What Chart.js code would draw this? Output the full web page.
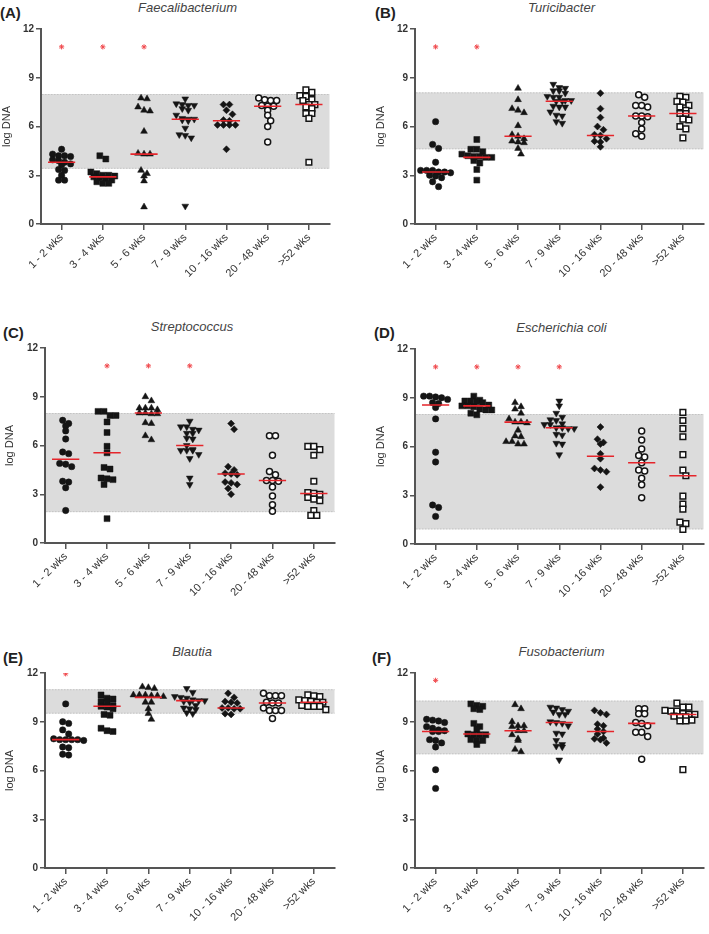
<!DOCTYPE html>
<html>
<head>
<meta charset="utf-8">
<script src="https://cdn.jsdelivr.net/npm/chart.js@4"></script>
<style>
  body { margin: 0; background: #fff; width: 709px; height: 934px; position: relative; overflow: hidden;
         font-family: "Liberation Sans", Arial, sans-serif; }
  canvas { position: absolute; }
  .lbl { position: absolute; font-weight: bold; font-size: 15px; line-height: 17px; color: #222; }
  .ttl { position: absolute; font-style: italic; font-size: 13px; line-height: 16px; color: #444; text-align: center; }
</style>
</head>
<body>
<script>
// categories and axis ticks
const categories = ['1 - 2 wks', '3 - 4 wks', '5 - 6 wks', '7 - 9 wks', '10 - 16 wks', '20 - 48 wks', '>52 wks'];
const yTicks = [0, 3, 6, 9, 12];

// (A) Faecalibacterium
const faecali = [
  [4.6, 4.3, 4.2, 4.2, 4.15, 3.95, 3.9, 3.8, 3.7, 3.65, 3.35, 3.3, 3.0, 2.7, 2.7],
  [4.2, 4.0, 3.2, 3.1, 3.0, 3.0, 2.95, 2.9, 2.85, 2.8, 2.7, 2.6, 2.5, 2.5],
  [7.75, 7.7, 7.2, 7.0, 6.95, 5.7, 4.35, 4.3, 4.3, 3.3, 3.1, 2.95, 2.65, 1.05],
  [7.7, 7.4, 7.35, 7.3, 7.3, 7.1, 7.0, 6.7, 6.5, 6.45, 6.45, 6.4, 6.35, 5.9, 5.5, 5.45, 5.3, 1.1],
  [7.35, 7.35, 7.0, 6.75, 6.4, 6.35, 6.1, 6.1, 6.1, 6.1, 4.6],
  [7.75, 7.65, 7.6, 7.6, 7.3, 7.25, 7.25, 7.0, 6.7, 6.35, 6.0, 5.05],
  [8.25, 8.1, 7.9, 7.85, 7.65, 7.6, 7.35, 7.35, 7.2, 7.1, 6.8, 6.8, 6.5, 3.8]
];
const faecaliMedian = [3.8, 2.9, 4.3, 6.45, 6.35, 7.25, 7.35];
const faecaliStars = [10.9, 10.9, 10.9, null, null, null, null];
const faecaliBand = [3.4, 8.0];

// (B) Turicibacter
const turici = [
  [6.3, 4.9, 4.65, 3.8, 3.3, 3.3, 3.3, 3.2, 3.2, 3.15, 3.0, 2.95, 2.85, 2.6, 2.3],
  [5.2, 4.6, 4.6, 4.45, 4.3, 4.2, 4.15, 4.15, 4.1, 4.1, 3.9, 3.75, 3.35, 2.7],
  [8.35, 7.65, 7.1, 7.0, 6.85, 6.05, 5.5, 5.4, 5.25, 5.1, 5.05, 5.0, 4.65, 4.3],
  [8.6, 8.4, 8.35, 8.2, 8.2, 8.05, 7.85, 7.8, 7.8, 7.6, 7.6, 7.55, 7.55, 7.25, 7.2, 7.2, 6.9, 6.7, 6.65, 6.3, 6.2],
  [8.05, 7.1, 6.55, 6.0, 5.8, 5.5, 5.45, 5.25, 5.1, 5.05, 4.75],
  [7.95, 7.8, 7.3, 7.3, 7.2, 6.65, 6.65, 6.6, 6.25, 5.85, 5.55, 5.4],
  [7.85, 7.8, 7.55, 7.5, 7.3, 7.2, 7.0, 6.8, 6.8, 6.45, 6.4, 6.0, 5.85, 5.3]
];
const turiciMedian = [3.2, 4.1, 5.4, 7.55, 5.45, 6.65, 6.8];
const turiciStars = [10.9, 10.9, null, null, null, null, null];
const turiciBand = [4.6, 8.1];

// (C) Streptococcus
const strepto = [
  [7.55, 7.35, 7.2, 6.9, 6.4, 5.6, 5.5, 4.9, 4.85, 4.7, 3.8, 3.75, 3.4, 2.0],
  [8.1, 8.1, 7.85, 7.85, 7.45, 6.8, 5.95, 5.55, 4.65, 4.55, 4.0, 3.95, 3.9, 3.6, 1.5],
  [9.0, 8.75, 8.3, 8.3, 8.3, 8.2, 8.0, 8.0, 7.95, 7.95, 7.4, 7.35, 6.6, 6.35],
  [7.5, 7.15, 7.15, 7.0, 6.95, 6.75, 6.75, 6.45, 6.4, 6.0, 5.75, 5.7, 5.7, 5.7, 5.45, 5.2, 4.0, 3.6],
  [7.35, 7.0, 4.7, 4.5, 4.3, 4.25, 4.2, 3.75, 3.7, 3.6, 3.35, 3.0],
  [6.6, 6.6, 5.4, 4.4, 4.2, 3.85, 3.85, 3.8, 3.45, 2.9, 2.35, 1.95],
  [5.95, 5.95, 5.75, 5.4, 3.8, 3.1, 3.05, 3.0, 2.8, 2.7, 2.6, 2.0, 1.7, 1.7]
];
const streptoMedian = [5.15, 5.55, 8.0, 6.0, 4.25, 3.85, 3.05];
const streptoStars = [null, 10.9, 10.9, 10.9, null, null, null];
const streptoBand = [1.9, 8.0];

// (D) Escherichia coli
const ecoli = [
  [9.1, 9.1, 9.05, 9.0, 8.9, 8.7, 8.65, 8.4, 7.7, 5.65, 5.05, 2.4, 2.25, 1.7],
  [9.1, 8.85, 8.8, 8.8, 8.75, 8.7, 8.55, 8.5, 8.5, 8.45, 8.3, 8.25, 8.25, 8.05, 7.95],
  [8.7, 8.45, 8.3, 8.05, 7.7, 7.5, 7.5, 7.45, 7.0, 6.65, 6.6, 6.3, 6.3, 6.15, 6.15],
  [8.8, 8.5, 8.05, 7.8, 7.65, 7.6, 7.4, 7.35, 7.35, 7.15, 7.15, 7.1, 7.1, 6.75, 6.7, 6.2, 6.15, 5.5],
  [7.2, 6.45, 6.25, 6.15, 5.55, 5.25, 4.65, 4.55, 4.45, 3.5],
  [6.95, 6.4, 5.85, 5.45, 5.35, 5.0, 4.55, 4.5, 4.05, 3.65, 2.85],
  [8.1, 7.6, 7.1, 6.6, 5.5, 4.55, 4.2, 2.95, 2.45, 2.15, 1.35, 1.25, 0.9]
];
const ecoliMedian = [8.55, 8.5, 7.5, 7.15, 5.4, 5.0, 4.2];
const ecoliStars = [10.9, 10.9, 10.9, 10.9, null, null, null];
const ecoliBand = [0.9, 8.0];

// (E) Blautia
const blautia = [
  [10.1, 9.0, 8.9, 8.5, 8.25, 7.95, 7.9, 7.9, 7.9, 7.9, 7.85, 7.45, 7.4, 7.0, 6.95],
  [10.65, 10.45, 10.4, 10.25, 10.2, 10.0, 9.95, 9.9, 9.8, 9.45, 9.4, 8.6, 8.45, 8.4],
  [11.15, 11.1, 11.05, 10.65, 10.65, 10.65, 10.6, 10.6, 10.55, 10.2, 10.2, 9.8, 9.5, 9.15],
  [11.05, 10.8, 10.55, 10.5, 10.45, 10.35, 10.3, 10.3, 10.25, 10.2, 10.0, 9.85, 9.8, 9.75, 9.55, 9.5],
  [10.75, 10.5, 10.25, 10.2, 10.15, 9.85, 9.85, 9.8, 9.8, 9.5, 9.45],
  [10.75, 10.6, 10.6, 10.6, 10.2, 10.15, 10.15, 9.85, 9.7, 9.7, 9.7, 9.2],
  [10.65, 10.6, 10.55, 10.35, 10.3, 10.25, 10.2, 10.2, 10.0, 9.95, 9.95, 9.95, 9.75]
];
const blautiaMedian = [7.9, 9.95, 10.5, 10.3, 9.85, 10.15, 10.2];
const blautiaStars = [11.95, null, null, null, null, null, null];
const blautiaBand = [9.5, 11.0];

// (F) Fusobacterium
const fuso = [
  [9.15, 9.1, 9.05, 8.95, 8.7, 8.6, 8.5, 8.45, 8.4, 8.4, 7.9, 7.85, 7.7, 7.45, 6.05, 4.9],
  [10.1, 10.0, 9.95, 9.8, 9.75, 8.9, 8.7, 8.55, 8.25, 8.2, 8.2, 8.2, 7.9, 7.85, 7.85, 7.6],
  [10.05, 9.8, 9.0, 8.75, 8.75, 8.7, 8.45, 8.45, 8.2, 7.95, 7.85, 7.3, 7.15],
  [9.9, 9.85, 9.75, 9.65, 9.6, 9.45, 9.45, 9.0, 8.95, 8.9, 8.75, 8.3, 8.25, 7.85, 7.6, 7.5, 7.45, 6.65],
  [9.7, 9.55, 9.45, 8.85, 8.75, 8.55, 8.4, 8.25, 8.0, 7.95, 7.9, 7.7],
  [9.8, 9.8, 9.5, 9.5, 8.95, 8.9, 8.75, 8.35, 8.35, 8.1, 6.7],
  [10.15, 9.9, 9.9, 9.7, 9.65, 9.65, 9.5, 9.45, 9.45, 9.35, 9.3, 9.3, 9.1, 9.05, 9.05, 6.05]
];
const fusoMedian = [8.4, 8.25, 8.45, 8.95, 8.4, 8.9, 9.45];
const fusoStars = [11.55, null, null, null, null, null, null];
const fusoBand = [7.0, 10.3];

// panel layout (pixel positions of each chart on the page)
const panels = [
  { letter: '(A)', title: 'Faecalibacterium', groups: faecali, median: faecaliMedian, stars: faecaliStars, band: faecaliBand,
    cx: 0, yw: 41, top: 29, right: 334, lx: 0, ly: 4, ty: 0 },
  { letter: '(B)', title: 'Turicibacter', groups: turici, median: turiciMedian, stars: turiciStars, band: turiciBand,
    cx: 374, yw: 41, top: 29, right: 708, lx: 375, ly: 4, ty: 0 },
  { letter: '(C)', title: 'Streptococcus', groups: strepto, median: streptoMedian, stars: streptoStars, band: streptoBand,
    cx: 3, yw: 42, top: 348, right: 339, lx: 3, ly: 324, ty: 319 },
  { letter: '(D)', title: 'Escherichia coli', groups: ecoli, median: ecoliMedian, stars: ecoliStars, band: ecoliBand,
    cx: 374, yw: 41, top: 349, right: 708, lx: 374, ly: 324, ty: 320 },
  { letter: '(E)', title: 'Blautia', groups: blautia, median: blautiaMedian, stars: blautiaStars, band: blautiaBand,
    cx: 3, yw: 42, top: 673, right: 339, lx: 3, ly: 649, ty: 644 },
  { letter: '(F)', title: 'Fusobacterium', groups: fuso, median: fusoMedian, stars: fusoStars, band: fusoBand,
    cx: 374, yw: 41, top: 673, right: 708, lx: 372, ly: 649, ty: 644 }
];

const PAD_TOP = 8, PLOT_H = 195, X_H = 72;
const PX_PER_CAT = 42, PX_PER_UNIT = PLOT_H / 12;
const STEP = 6.1, ROW_H = 4.5, DOT = 6.2;

const markerStyle = ['circle', 'rect', 'triangle', 'triangle', 'rectRot', 'circle', 'rect'];
const markerRot = [0, 0, 0, 180, 0, 0, 0];
const markerOpen = [false, false, false, false, false, true, true];
const markerRadius = [3.2, 4.2, 3.9, 3.9, 3.5, 3.0, 4.0];
const INK = '#151515', AXIS = '#555', RED = '#e5252b';

Chart.defaults.font.family = '"Liberation Sans", Arial, sans-serif';

// row-binned dot layout: near-equal values share a row, centred on the category
function swarm(values) {
  const order = values.map((v, i) => i).sort((a, b) => values[b] - values[a]);
  const rows = [];
  for (const i of order) {
    const y = values[i] * PX_PER_UNIT;
    const last = rows[rows.length - 1];
    if (last && last.y0 - y < ROW_H) last.idx.push(i);
    else rows.push({ y0: y, idx: [i] });
  }
  const placed = [];
  const out = new Array(values.length);
  rows.forEach(r => {
    const n = r.idx.length;
    let best = 0;
    for (const shift of [0, STEP / 2, -STEP / 2]) {
      const ok = r.idx.every((i, k) => {
        const x = (k - (n - 1) / 2) * STEP + shift;
        return placed.every(p => Math.hypot(p.x - x, p.y - values[i] * PX_PER_UNIT) >= DOT);
      });
      if (ok) { best = shift; break; }
    }
    r.idx.forEach((i, k) => {
      const x = (k - (n - 1) / 2) * STEP + best;
      placed.push({ x, y: values[i] * PX_PER_UNIT });
      out[i] = x / PX_PER_CAT;
    });
  });
  return out;
}

const bandPlugin = {
  id: 'band',
  beforeDatasetsDraw(chart, args, opts) {
    const { ctx, chartArea } = chart;
    const y = chart.scales.y;
    const t = y.getPixelForValue(opts.to), b = y.getPixelForValue(opts.from);
    const l = chartArea.left + 1, r = chartArea.right;
    ctx.save();
    ctx.fillStyle = '#dcdcdc';
    ctx.fillRect(l, t, r - l, b - t);
    ctx.strokeStyle = '#c4c4c4';
    ctx.lineWidth = 1;
    ctx.setLineDash([1.5, 1.5]);
    ctx.beginPath();
    ctx.moveTo(l, t + 0.5); ctx.lineTo(r, t + 0.5);
    ctx.moveTo(l, b - 0.5); ctx.lineTo(r, b - 0.5);
    ctx.stroke();
    ctx.restore();
  }
};

panels.forEach(p => {
  const lbl = document.createElement('div');
  lbl.className = 'lbl';
  lbl.style.left = p.lx + 'px';
  lbl.style.top = p.ly + 'px';
  lbl.textContent = p.letter;
  document.body.appendChild(lbl);

  const ttl = document.createElement('div');
  ttl.className = 'ttl';
  ttl.style.left = (p.cx + p.yw) + 'px';
  ttl.style.width = (p.right - p.cx - p.yw) + 'px';
  ttl.style.top = p.ty + 'px';
  ttl.textContent = p.title;
  document.body.appendChild(ttl);

  const cv = document.createElement('canvas');
  const w = p.right + 1 - p.cx, h = PAD_TOP + PLOT_H + X_H;
  cv.width = w; cv.height = h;
  cv.style.left = p.cx + 'px';
  cv.style.top = (p.top - PAD_TOP) + 'px';
  cv.style.width = w + 'px'; cv.style.height = h + 'px';
  document.body.appendChild(cv);

  const datasets = [];
  const medLine = [];
  p.median.forEach((m, i) => {
    medLine.push({ x: i - 0.33, y: m }, { x: i + 0.33, y: m }, { x: i + 0.5, y: null });
  });
  datasets.push({
    data: medLine, showLine: true, spanGaps: false, borderColor: RED, borderWidth: 1.6,
    pointRadius: 0, order: 0
  });
  datasets.push({
    data: p.stars.map((s, i) => ({ x: i, y: s })).filter(d => d.y !== null),
    pointStyle: 'star', pointRadius: 2.6, borderColor: '#f0484c', borderWidth: 1, order: 0
  });
  p.groups.forEach((vals, i) => {
    const offs = swarm(vals);
    datasets.push({
      data: vals.map((v, j) => ({ x: i + offs[j], y: v })),
      pointStyle: markerStyle[i],
      rotation: markerRot[i],
      pointRadius: markerRadius[i],
      backgroundColor: markerOpen[i] ? '#fff' : INK,
      borderColor: INK,
      borderWidth: markerOpen[i] ? 1.5 : 0.5,
      order: 1
    });
  });

  new Chart(cv, {
    type: 'scatter',
    data: { datasets },
    options: {
      responsive: false,
      animation: false,
      events: [],
      layout: { padding: { top: PAD_TOP, right: 1, left: 0, bottom: 0 } },
      plugins: {
        legend: { display: false },
        tooltip: { enabled: false },
        band: { from: p.band[0], to: p.band[1] }
      },
      scales: {
        x: {
          type: 'linear', min: -0.5, max: 6.5,
          afterBuildTicks: s => { s.ticks = categories.map((c, i) => ({ value: i })); },
          afterFit: s => { s.height = X_H; },
          grid: { display: true, drawOnChartArea: false, drawTicks: true, tickLength: 6, color: AXIS, lineWidth: 1.5 },
          border: { display: true, color: AXIS, width: 2 },
          ticks: { autoSkip: false, minRotation: 45, maxRotation: 45, padding: 1, color: '#333',
                   font: { size: 11 }, callback: v => categories[v] }
        },
        y: {
          type: 'linear', min: 0, max: 12,
          afterBuildTicks: s => { s.ticks = yTicks.map(v => ({ value: v })); },
          afterFit: s => { s.width = p.yw; },
          grid: { display: true, drawOnChartArea: false, drawTicks: true, tickLength: 5, color: AXIS, lineWidth: 1.5 },
          border: { display: true, color: AXIS, width: 2 },
          ticks: { color: '#333', padding: 2, font: { size: 10, weight: 'bold' } },
          title: { display: true, text: 'log DNA', color: '#333', font: { size: 11 }, padding: { top: 0, bottom: 0 } }
        }
      }
    },
    plugins: [bandPlugin]
  });
});
</script>
</body>
</html>
